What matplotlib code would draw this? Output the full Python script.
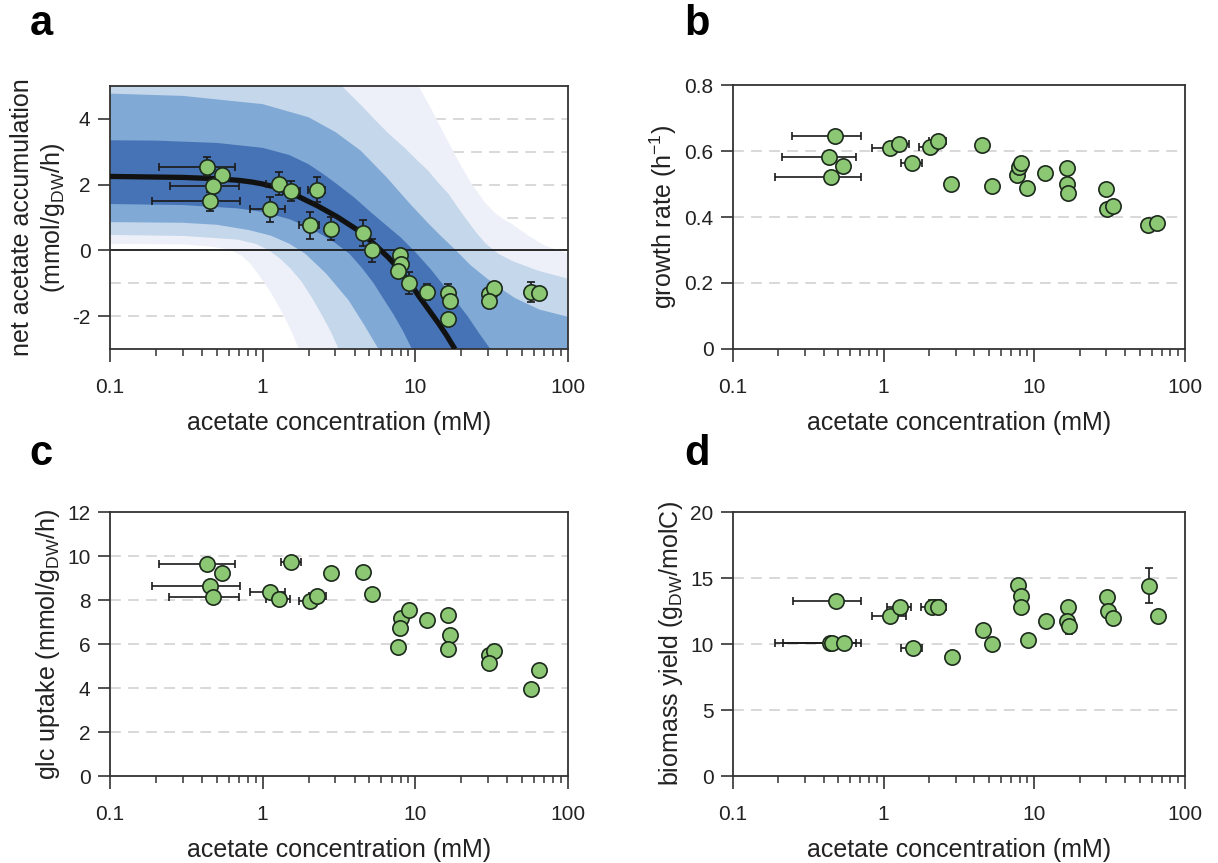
import numpy as np
import matplotlib
matplotlib.use('Agg')
import matplotlib.pyplot as plt
from matplotlib.ticker import LogLocator, NullFormatter

plt.rcParams['font.family'] = ['Liberation Sans', 'DejaVu Sans']
plt.rcParams['axes.unicode_minus'] = False
plt.rcParams['mathtext.fontset'] = 'custom'
plt.rcParams['mathtext.rm'] = 'Liberation Sans'
plt.rcParams['mathtext.default'] = 'rm'

# ---- panel a: measured net acetate accumulation ----
a_x = [0.435, 0.545, 0.475, 0.451, 1.11, 1.28, 1.54, 2.28, 2.03, 2.82, 4.51, 5.2, 7.98, 8.1, 7.7,
       9.04, 11.9, 16.5, 16.8, 16.3, 30.5, 33, 30.5, 57, 65]
a_y = [2.55, 2.30, 1.96, 1.49, 1.25, 2.02, 1.81, 1.84, 0.76, 0.66, 0.53, 0.0, -0.13, -0.40, -0.63,
       -0.99, -1.27, -1.29, -1.54, -2.08, -1.33, -1.14, -1.54, -1.26, -1.29]
a_yerr = [0.29, 0, 0.1, 0.3, 0.38, 0.35, 0.3, 0.38, 0.4, 0.35, 0.39, 0.35, 0.15, 0.1, 0.1,
          0.34, 0.25, 0.27, 0, 0, 0, 0.12, 0, 0.31, 0]
a_xlo = [0.211, 0.545, 0.247, 0.188, 0.826, 1.05, 1.36, 1.99, 1.73, 2.82, 4.51, 5.2, 7.98, 8.1, 7.7,
         9.04, 11.9, 16.5, 16.8, 16.3, 30.5, 33, 30.5, 57, 65]
a_xhi = [0.659, 0.545, 0.70, 0.71, 1.40, 1.41, 1.77, 2.58, 2.33, 2.82, 4.51, 5.2, 7.98, 8.1, 7.7,
         9.04, 11.9, 16.5, 16.8, 16.3, 30.5, 33, 30.5, 57, 65]

# model prediction (black line) and its bands
fit_x = [0.1, 0.3, 0.5, 0.7, 0.85, 1, 1.2, 1.45, 1.73, 2.3, 3.08, 4.26, 5.3, 6.68, 8, 9.5, 10.5, 12,
         14.2, 16, 17.8, 18.2]
fit_y = [2.25, 2.22, 2.18, 2.13, 2.08, 2.02, 1.93, 1.8, 1.63, 1.35, 1.02, 0.6, 0.22, -0.22, -0.62,
         -1.08, -1.38, -1.75, -2.22, -2.58, -2.93, -3.0]

# outermost band (palest)
band4_up_x = [0.1, 9, 10.5, 12.8, 15.6, 19, 23.4, 28.7, 33, 37, 43, 55, 70, 100]
band4_up_y = [5.5, 5.5, 5.0, 4.28, 3.5, 2.75, 2.02, 1.45, 1.15, 0.98, 0.8, 0.45, 0.15, -0.1]
band4_lo_x = [0.1, 0.3, 0.45, 0.6, 0.72, 0.83, 0.92, 1.03, 1.13, 1.24, 1.38, 1.52, 1.73]
band4_lo_y = [0.2, 0.18, 0.12, 0.03, -0.14, -0.4, -0.68, -1.0, -1.28, -1.6, -2.0, -2.4, -3.0]

band3_up_x = [0.1, 2, 3.3, 4.5, 5.5, 6.7, 8.6, 10.5, 12, 14.2, 16.5, 18.7, 21, 25, 29, 35, 43, 64, 100]
band3_up_y = [5.5, 5.5, 5.0, 4.38, 3.95, 3.55, 3.1, 2.7, 2.45, 2.05, 1.72, 1.35, 1.02, 0.55, 0.2,
              -0.1, -0.32, -0.62, -0.86]
band3_lo_x = [0.1, 0.3, 0.68, 0.9, 1.1, 1.3, 1.52, 1.8, 2.11, 2.5, 2.78, 3.15]
band3_lo_y = [0.47, 0.44, 0.33, 0.2, 0.0, -0.25, -0.55, -0.95, -1.45, -2.05, -2.45, -3.0]

band2_up_x = [0.1, 0.3, 1, 2, 3, 4.4, 6.5, 9.3, 12, 15, 18, 23, 29, 36, 45, 65, 100]
band2_up_y = [4.77, 4.7, 4.45, 4.05, 3.6, 3.03, 2.22, 1.4, 0.85, 0.4, 0.05, -0.45, -0.83, -1.15,
              -1.45, -1.8, -2.02]
band2_lo_x = [0.1, 0.3, 0.5, 0.81, 1.13, 1.5, 1.9, 2.6, 3.66, 4.6, 5.74]
band2_lo_y = [0.86, 0.84, 0.78, 0.62, 0.45, 0.2, -0.1, -0.7, -1.52, -2.25, -3.0]

# innermost band (darkest)
band1_up_x = [0.1, 0.2, 0.5, 1, 1.5, 2, 2.5, 3, 4, 5, 6.5, 8, 10, 12.5, 15.3, 18.5, 22, 26, 31]
band1_up_y = [3.35, 3.34, 3.27, 3.12, 2.9, 2.62, 2.32, 2.05, 1.6, 1.2, 0.75, 0.4, -0.05, -0.55,
              -1.06, -1.55, -2.0, -2.5, -3.0]
band1_lo_x = [0.1, 0.3, 0.68, 1, 1.5, 2, 2.5, 3, 3.7, 4.5, 5.3, 6.05, 7.2, 8.3, 9.5]
band1_lo_y = [1.41, 1.38, 1.28, 1.17, 0.95, 0.7, 0.45, 0.22, -0.1, -0.55, -0.98, -1.4, -1.95, -2.45, -3.0]

# ---- panel b: growth rate ----
b_x = [0.476, 0.435, 0.54, 0.449, 1.10, 1.27, 1.54, 2.03, 2.29, 2.82, 4.48, 5.22, 7.7, 7.9, 8.1,
       8.97, 11.8, 16.5, 16.4, 16.7, 29.9, 30.4, 33.2, 56.4, 65.3]
b_y = [0.645, 0.582, 0.556, 0.521, 0.608, 0.620, 0.564, 0.611, 0.630, 0.501, 0.619, 0.495, 0.527,
       0.552, 0.564, 0.488, 0.532, 0.547, 0.501, 0.474, 0.484, 0.423, 0.434, 0.377, 0.382]
b_xlo = [0.246, 0.211, 0.54, 0.191, 0.834, 1.15, 1.30, 1.72, 1.99, 2.6, 4.48, 5.22, 7.7, 7.9, 8.1,
         8.97, 11.8, 16.5, 16.4, 16.7, 29.9, 30.4, 33.2, 56.4, 65.3]
b_xhi = [0.708, 0.656, 0.54, 0.711, 1.30, 1.48, 1.79, 2.3, 2.59, 3.0, 4.48, 5.22, 7.7, 7.9, 8.1,
         8.97, 11.8, 16.5, 16.4, 16.7, 29.9, 30.4, 33.2, 56.4, 65.3]
b_yerr = [0] * 25

# ---- panel c: glucose uptake ----
c_x = [0.435, 0.545, 0.451, 0.475, 1.11, 1.28, 1.54, 2.03, 2.28, 2.82, 4.51, 5.2, 8.1, 9.04, 7.98,
       7.7, 11.9, 16.5, 16.8, 16.5, 30.5, 33, 30.5, 57, 65]
c_y = [9.62, 9.23, 8.65, 8.12, 8.36, 8.03, 9.71, 7.95, 8.18, 9.23, 9.27, 8.26, 7.2, 7.55, 6.74,
       5.88, 7.09, 7.33, 6.42, 5.77, 5.5, 5.68, 5.15, 3.94, 4.82]
c_xlo = [0.211, 0.545, 0.188, 0.245, 0.826, 1.05, 1.31, 1.74, 2.0, 2.82, 4.51, 5.2, 8.1, 9.04, 7.98,
         7.7, 11.9, 16.5, 16.8, 16.5, 30.5, 33, 30.5, 57, 65]
c_xhi = [0.659, 0.545, 0.71, 0.70, 1.40, 1.51, 1.79, 2.3, 2.6, 2.82, 4.51, 5.2, 8.1, 9.04, 7.98,
         7.7, 11.9, 16.5, 16.8, 16.5, 30.5, 33, 30.5, 57, 65]
c_yerr = [0, 0, 0, 0, 0, 0, 0, 0, 0.15, 0.15, 0.15, 0, 0, 0, 0,
          0, 0, 0, 0.15, 0, 0, 0, 0, 0.15, 0]

# ---- panel d: biomass yield ----
d_x = [0.481, 0.442, 0.455, 0.549, 1.11, 1.28, 1.57, 2.08, 2.30, 2.86, 4.53, 5.27, 7.8, 8.12, 8.2,
       9.13, 12.0, 16.7, 16.6, 17.0, 30.4, 30.9, 33.3, 57.6, 65.9]
d_y = [13.27, 10.06, 10.04, 10.04, 12.16, 12.84, 9.68, 12.84, 12.84, 9.05, 11.07, 10.01, 14.44,
       13.6, 12.84, 10.29, 11.78, 12.84, 11.78, 11.38, 13.53, 12.52, 11.96, 14.41, 12.16]
d_xlo = [0.249, 0.191, 0.214, 0.549, 0.834, 1.06, 1.31, 1.77, 2.08, 2.86, 4.53, 5.27, 7.8, 8.12, 8.2,
         9.13, 12.0, 16.7, 16.6, 17.0, 30.4, 30.9, 33.3, 57.6, 65.9]
d_xhi = [0.711, 0.656, 0.711, 0.549, 1.41, 1.52, 1.81, 2.3, 2.59, 2.86, 4.53, 5.27, 7.8, 8.12, 8.2,
         9.13, 12.0, 16.7, 16.6, 17.0, 30.4, 30.9, 33.3, 57.6, 65.9]
d_yerr = [0, 0, 0, 0, 0, 0, 0, 0.5, 0.5, 0, 0, 0, 0, 0, 0,
          0, 0, 0, 0, 0.6, 0, 0, 0, 1.33, 0]

xticks = [0.1, 1, 10, 100]
xtick_labels = ['0.1', '1', '10', '100']

spine_col = '#333333'
grid_col = '#d5d5d5'
dot_col = '#8cc873'
dot_edge = '#1c2a1c'
band_cols = ['#edf0f8', '#c5d7eb', '#80a9d5', '#4673b5']


def setup(ax, ylim, yticks, ylabels, gridlines, ylabel):
    ax.set_xscale('log')
    ax.set_xlim(0.1, 100)
    ax.set_ylim(*ylim)
    ax.set_xticks(xticks)
    ax.set_xticklabels(xtick_labels)
    ax.xaxis.set_minor_locator(LogLocator(base=10, subs=np.arange(2, 10)))
    ax.xaxis.set_minor_formatter(NullFormatter())
    ax.set_yticks(yticks)
    ax.set_yticklabels(ylabels)
    ax.tick_params(which='major', direction='out', length=9, width=1.2, color=spine_col,
                   labelsize=15, labelcolor='#222222')
    ax.tick_params(axis='x', which='major', pad=12)
    ax.tick_params(axis='y', which='major', pad=5)
    ax.tick_params(axis='x', which='minor', direction='out', length=5, width=1.1, color=spine_col)
    for g in gridlines:
        ax.axhline(g, color=grid_col, lw=1.3, ls=(0, (6, 4)), zorder=0.5)
    for s in ax.spines.values():
        s.set_color(spine_col)
        s.set_linewidth(1.3)
    ax.set_xlabel('acetate concentration (mM)', fontsize=18, labelpad=10, color='#222222')
    ax.set_ylabel(ylabel, fontsize=18, labelpad=4, color='#222222')


def points(ax, x, y, xlo, xhi, yerr):
    x = np.array(x)
    xerr = [x - np.array(xlo), np.array(xhi) - x]
    ax.errorbar(x, y, xerr=xerr, yerr=yerr, fmt='o', ms=11, mfc=dot_col, mec=dot_edge, mew=1.2,
                ecolor='#1a1a1a', elinewidth=1.2, capsize=3, capthick=1.2, zorder=5)


def band(ax, ux, uy, lx, ly, col):
    xs = list(ux) + [ux[-1]] + list(lx)[::-1]
    ys = list(uy) + [-3.0] + list(ly)[::-1]
    ax.fill(xs, ys, color=col, lw=0, zorder=1)


fig = plt.figure(figsize=(12.18, 8.63), dpi=100)
ax_a = fig.add_axes([0.0903, 0.5956, 0.3760, 0.3047])
ax_b = fig.add_axes([0.6018, 0.5956, 0.3711, 0.3059])
ax_c = fig.add_axes([0.0903, 0.1008, 0.3760, 0.3059])
ax_d = fig.add_axes([0.6018, 0.1008, 0.3711, 0.3059])

# a
setup(ax_a, (-3, 5), [-2, 0, 2, 4], ['-2', '0', '2', '4'], [-2, -1, 1, 2, 3, 4],
      'net acetate accumulation\n(mmol/g$_{DW}$/h)')
band(ax_a, band4_up_x, band4_up_y, band4_lo_x, band4_lo_y, band_cols[0])
band(ax_a, band3_up_x, band3_up_y, band3_lo_x, band3_lo_y, band_cols[1])
band(ax_a, band2_up_x, band2_up_y, band2_lo_x, band2_lo_y, band_cols[2])
band(ax_a, band1_up_x, band1_up_y, band1_lo_x, band1_lo_y, band_cols[3])
ax_a.axhline(0, color='#1a1a1a', lw=1.3, zorder=2)
ax_a.plot(fit_x, fit_y, color='#111111', lw=3.8, zorder=3, solid_capstyle='butt',
          solid_joinstyle='round')
points(ax_a, a_x, a_y, a_xlo, a_xhi, a_yerr)

# b
setup(ax_b, (0, 0.8), [0, 0.2, 0.4, 0.6, 0.8], ['0', '0.2', '0.4', '0.6', '0.8'], [0.2, 0.4, 0.6],
      'growth rate (h$^{-1}$)')
points(ax_b, b_x, b_y, b_xlo, b_xhi, b_yerr)

# c
setup(ax_c, (0, 12), [0, 2, 4, 6, 8, 10, 12], ['0', '2', '4', '6', '8', '10', '12'],
      [2, 4, 6, 8, 10], 'glc uptake (mmol/g$_{DW}$/h)')
points(ax_c, c_x, c_y, c_xlo, c_xhi, c_yerr)

# d
setup(ax_d, (0, 20), [0, 5, 10, 15, 20], ['0', '5', '10', '15', '20'], [5, 10, 15],
      'biomass yield (g$_{DW}$/molC)')
points(ax_d, d_x, d_y, d_xlo, d_xhi, d_yerr)

for lab, x, y in [('a', 0.034, 0.972), ('b', 0.572, 0.972), ('c', 0.034, 0.474), ('d', 0.572, 0.474)]:
    fig.text(x, y, lab, fontsize=30, fontweight='bold', ha='center', va='center')

fig.savefig('out.png', dpi=100)
